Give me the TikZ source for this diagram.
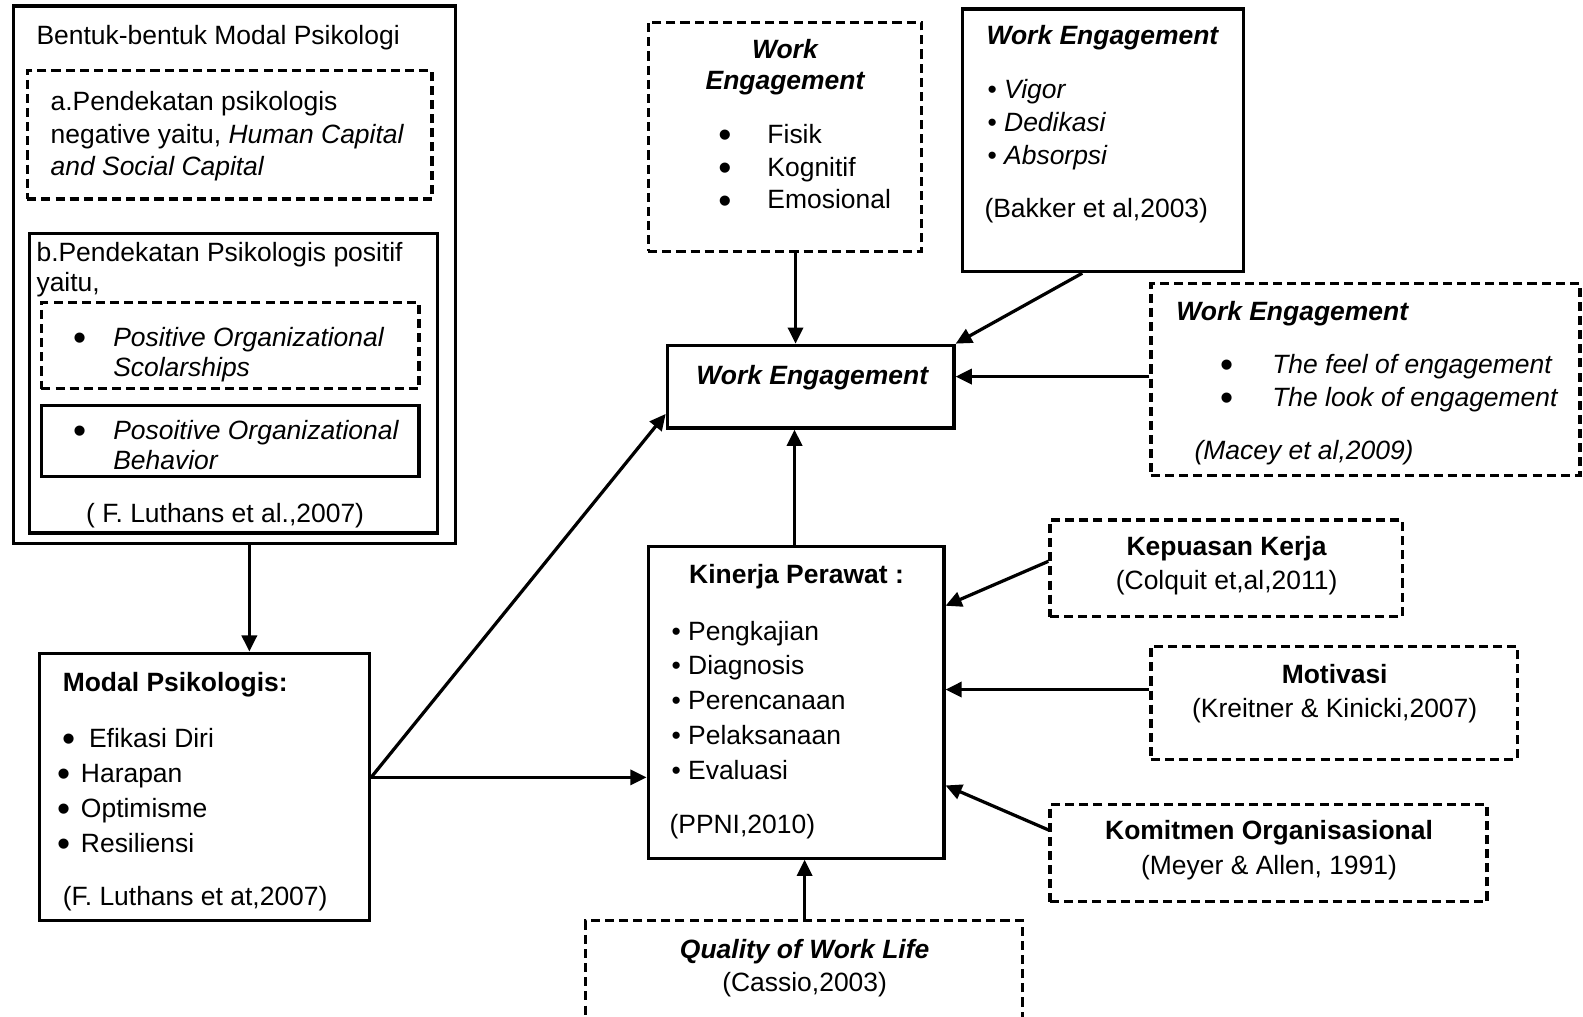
\documentclass[tikz,border=0pt]{standalone}
\usepackage{fontspec}
\setmainfont{Liberation Sans}
\usetikzlibrary{arrows.meta,fit}
\tikzset{
  txt/.style={inner sep=0pt, font=\fontsize{26.2}{31}\selectfont},
  bigbul/.style={inner sep=0pt, anchor=base, text height=16pt, text depth=0pt, font=\fontsize{37}{37}\selectfont},
  solidbox/.style={draw, line width=3.2pt, inner sep=0pt, rectangle},
  dashbox/.style={solidbox, dash pattern=on 9pt off 5pt},
  arr/.style={line width=3.2pt, -{Triangle[length=16pt,width=15pt]}},
}
\newcommand\tl[4]{\node[txt,anchor=base west] (#1) at (#2,#3) {#4};}
\newcommand\tc[4]{\node[txt,anchor=base] (#1) at (#2,#3) {#4};}
% big bullet centred at x, for a text line whose baseline is y
\newcommand\bb[3]{\node[bigbul] (#1) at (#2,#3+4) {•};}
\begin{document}
\begin{tikzpicture}[x=1pt,y=-1pt]
\useasboundingbox (0,0) rectangle (1568,1007);
\clip (0,0) rectangle (1568,1007);
\fill[white] (0,0) rectangle (1568,1007);

% ---------- left top block ----------
\node[solidbox, fit={(13,6) (451,538)}] (outer) {};
\node[dashbox, fit={(27,70) (428,197)}] (boxa) {};
\node[solidbox, fit={(29,231) (433,528)}] (boxb) {};
\node[dashbox, fit={(41,300) (415,385)}] (pos) {};
\node[solidbox, fit={(41,402) (415,472)}] (pob) {};

\tl{t1}{36}{44}{Bentuk-bentuk Modal Psikologi}
\tl{ta1}{50}{109}{a.Pendekatan psikologis}
\tl{ta2}{50}{142}{negative yaitu, \textit{Human Capital}}
\tl{ta3}{50}{174}{\textit{and Social Capital}}
\tl{tb1}{36}{259}{b.Pendekatan Psikologis positif}
\tl{tb2}{36}{289}{yaitu,}
\bb{bp1}{79}{343}
\tl{tp1}{112}{343}{\textit{Positive Organizational}}
\tl{tp2}{112}{373}{\textit{Scolarships}}
\bb{bp2}{79}{435}
\tl{tq1}{112}{435}{\textit{Posoitive Organizational}}
\tl{tq2}{112}{465}{\textit{Behavior}}
\tc{tl1}{223}{518}{( F. Luthans et al.,2007)}

% ---------- Modal Psikologis ----------
\node[solidbox, fit={(39,647) (366,912)}] (modal) {};
\tl{m0}{62}{685}{\textbf{Modal Psikologis:}}
\bb{mb1}{68}{740}
\tl{m1}{88}{740}{Efikasi Diri}
\bb{mb2}{63}{775}
\tl{m2}{80}{775}{Harapan}
\bb{mb3}{63}{810}
\tl{m3}{80}{810}{Optimisme}
\bb{mb4}{63}{844}
\tl{m4}{80}{844}{Resiliensi}
\tl{m5}{62}{897}{(F. Luthans et at,2007)}

% ---------- Work Engagement (Kahn) ----------
\node[dashbox, fit={(642,22) (913,249)}] (we1) {};
\tc{w1a}{778}{58}{\textbf{\textit{Work}}}
\tc{w1b}{778}{89}{\textbf{\textit{Engagement}}}
\bb{w1c}{718}{142}
\tl{w1d}{760}{142}{Fisik}
\bb{w1e}{718}{175}
\tl{w1f}{760}{175}{Kognitif}
\bb{w1g}{718}{207}
\tl{w1h}{760}{207}{Emosional}

% ---------- Work Engagement (Bakker) ----------
\node[solidbox, fit={(953,9) (1232,269)}] (we2) {};
\tl{w2a}{977}{44}{\textbf{\textit{Work Engagement}}}
\tl{w2b}{978}{98}{• \textit{Vigor}}
\tl{w2c}{978}{130}{• \textit{Dedikasi}}
\tl{w2d}{978}{163}{• \textit{Absorpsi}}
\tl{w2e}{975}{215}{(Bakker et al,2003)}

% ---------- central Work Engagement ----------
\node[solidbox, fit={(661,342) (945,424)}] (we) {};
\tc{wet}{805}{381}{\textbf{\textit{Work Engagement}}}

% ---------- Work Engagement (Macey) ----------
\node[dashbox, fit={(1140,281) (1565,471)}] (we3) {};
\tl{w3a}{1165}{317}{\textbf{\textit{Work Engagement}}}
\bb{w3b}{1215}{370}
\tl{w3c}{1260}{370}{\textit{The feel of engagement}}
\bb{w3d}{1215}{403}
\tl{w3e}{1260}{403}{\textit{The look of engagement}}
\tl{w3f}{1183}{455}{\textit{(Macey et al,2009)}}

% ---------- Kinerja Perawat ----------
\node[solidbox, fit={(642,541) (935,850)}] (kin) {};
\tc{k0}{789}{578}{\textbf{Kinerja Perawat :}}
\tl{k1}{665}{634}{• Pengkajian}
\tl{k2}{665}{668}{• Diagnosis}
\tl{k3}{665}{703}{• Perencanaan}
\tl{k4}{665}{737}{• Pelaksanaan}
\tl{k5}{665}{772}{• Evaluasi}
\tl{k6}{663}{826}{(PPNI,2010)}

% ---------- right factor boxes ----------
\node[dashbox, fit={(1040,515) (1389,611)}] (kep) {};
\tc{kp1}{1215}{550}{\textbf{Kepuasan Kerja}}
\tc{kp2}{1215}{584}{(Colquit et,al,2011)}

\node[dashbox, fit={(1140,640) (1503,752)}] (mot) {};
\tc{mo1}{1322}{677}{\textbf{Motivasi}}
\tc{mo2}{1322}{711}{(Kreitner \& Kinicki,2007)}

\node[dashbox, fit={(1040,797) (1473,893)}] (kom) {};
\tc{ko1}{1257}{832}{\textbf{Komitmen Organisasional}}
\tc{ko2}{1257}{866}{(Meyer \& Allen, 1991)}

% ---------- Quality of Work Life ----------
\node[dashbox, fit={(580,912) (1013,1040)}] (qwl) {};
\tc{q1}{797}{949}{\textbf{\textit{Quality of Work Life}}}
\tc{q2}{797}{982}{(Cassio,2003)}

% ---------- connectors ----------
\draw[arr] (247,0 |- outer.south) -- (247,0 |- modal.north);
\draw[arr] (modal.east |- 0,770) -- (kin.west |- 0,770);
\draw[arr] (modal.east |- 0,770) -- (we.west |- 0,410);
\draw[arr] (788,0 |- we1.south) -- (788,0 |- we.north);
\draw[arr] (1072,0 |- we2.south) -- (we.north east);
\draw[arr] (we3.west |- 0,373) -- (we.east |- 0,373);
\draw[arr] (787,0 |- kin.north) -- (787,0 |- we.south);
\draw[arr] (kep.west |- 0,556) -- (kin.east |- 0,600);
\draw[arr] (mot.west |- 0,683) -- (kin.east |- 0,683);
\draw[arr] (kom.west |- 0,822) -- (kin.east |- 0,778);
\draw[arr] (797,0 |- qwl.north) -- (797,0 |- kin.south);
\end{tikzpicture}
\end{document}
